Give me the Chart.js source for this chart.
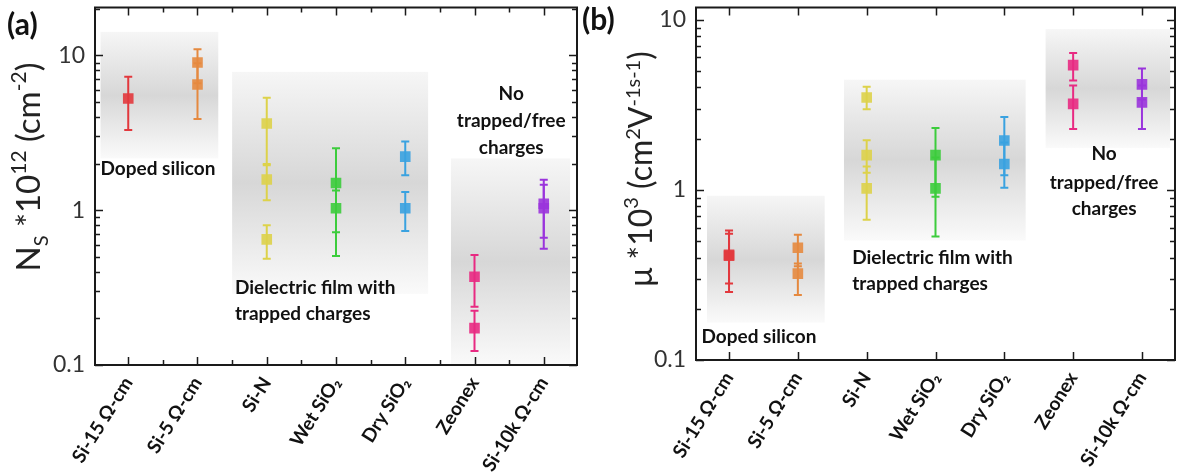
<!DOCTYPE html>
<html lang="en">
<head>
<meta charset="UTF-8" />
<title>Sheet charge density and mobility</title>
<script src="https://cdn.jsdelivr.net/npm/chart.js"></script>
<style>
  body { margin: 0; background: #fff; width: 1183px; height: 473px; overflow: hidden; }
  canvas { position: absolute; top: 0; }
  #nsChart { left: 0; }
  #muChart { left: 575px; }
</style>
</head>
<body>
<canvas id="nsChart" width="590" height="473"></canvas>
<canvas id="muChart" width="608" height="473"></canvas>

<script>
// categories along the x axis
const categories = ['Si-15 Ω-cm', 'Si-5 Ω-cm', 'Si-N', 'Wet SiO₂', 'Dry SiO₂', 'Zeonex', 'Si-10k Ω-cm'];
const yTickValues = [0.1, 1, 10];

// (a) sheet charge density, N_s * 10^12 cm^-2
const nsValues = [[5.27], [9.0, 6.49], [3.63, 1.58, 0.648], [1.50, 1.03], [2.22, 1.03], [0.372, 0.173], [1.10, 1.03]];
const nsLow    = [[3.30], [6.6, 3.89], [1.95, 1.16, 0.486], [0.72, 0.506], [1.68, 0.733], [0.238, 0.123], [0.664, 0.564]];
const nsHigh   = [[7.27], [10.96, 8.9], [5.33, 1.99, 0.80], [2.51, 1.34], [2.78, 1.31], [0.514, 0.224], [1.575, 1.46]];

// (b) mobility, mu * 10^3 cm^2 V^-1 s^-1
const muValues = [[0.415, 0.41], [0.457, 0.322], [3.49, 1.60, 1.02], [1.60, 1.02], [1.95, 1.42], [5.41, 3.20], [4.17, 3.27]];
const muLow    = [[0.251, 0.282], [0.356, 0.241], [2.98, 1.26, 0.668], [0.91, 0.532], [1.22, 1.03], [4.40, 2.28], [3.4, 2.28]];
const muHigh   = [[0.577, 0.552], [0.545, 0.369], [4.04, 1.96, 1.37], [2.31, 1.55], [2.68, 1.9], [6.38, 4.10], [5.17, 4.1]];

const colors = ['#e2383d', '#e5893f', '#ddd24a', '#3ccc3c', '#3aa2e0', '#e82a82', '#9a34dc'];

const FONT = 'Lato, "Open Sans", sans-serif';

// draws the gray bands, error bars, frame with inward ticks, notes and y title
function decor(cfg) {
  return {
    id: 'decor_' + cfg.name,
    beforeDatasetsDraw(chart) {
      const { ctx, chartArea: a, scales: { x, y } } = chart;
      ctx.save();
      cfg.bands.forEach(b => {
        const l = x.getPixelForValue(b.x0), r = x.getPixelForValue(b.x1);
        const t = y.getPixelForValue(b.y1), btm = y.getPixelForValue(b.y0);
        const g = ctx.createLinearGradient(0, t, 0, btm);
        g.addColorStop(0, '#f6f6f6');
        g.addColorStop(0.5, '#d7d7d7');
        g.addColorStop(1, '#fafafa');
        ctx.fillStyle = g;
        ctx.fillRect(l, t, r - l, btm - t);
      });
      ctx.lineWidth = 2;
      cfg.low.forEach((lows, i) => {
        ctx.strokeStyle = colors[i];
        const px = x.getPixelForValue(i);
        lows.forEach((lo, j) => {
          const y1 = y.getPixelForValue(lo), y2 = y.getPixelForValue(cfg.high[i][j]);
          ctx.beginPath();
          ctx.moveTo(px, y1); ctx.lineTo(px, y2);
          ctx.moveTo(px - 4, y1); ctx.lineTo(px + 4, y1);
          ctx.moveTo(px - 4, y2); ctx.lineTo(px + 4, y2);
          ctx.stroke();
        });
      });
      ctx.restore();
    },
    afterDraw(chart) {
      const { ctx, chartArea: a, scales: { x, y } } = chart;
      ctx.save();
      ctx.strokeStyle = '#1a1a1a';
      ctx.lineWidth = 2;
      ctx.strokeRect(a.left, a.top, a.right - a.left, a.bottom - a.top);
      ctx.beginPath();
      // x ticks, top and bottom, pointing in
      categories.forEach((c, i) => {
        const px = Math.round(x.getPixelForValue(i)) + 0.5;
        ctx.moveTo(px, a.bottom); ctx.lineTo(px, a.bottom - 8);
        ctx.moveTo(px, a.top); ctx.lineTo(px, a.top + 8);
        if (cfg.minorX && i < categories.length - 1) {
          const mx = Math.round(x.getPixelForValue(i + 0.5)) + 0.5;
          ctx.moveTo(mx, a.bottom); ctx.lineTo(mx, a.bottom - 5);
          ctx.moveTo(mx, a.top); ctx.lineTo(mx, a.top + 5);
        }
      });
      // y ticks, left and right
      yTickValues.forEach(d => {
        for (let k = 1; k <= 9; k++) {
          const v = d * k;
          if (v < y.min || v > y.max) continue;
          const py = Math.round(y.getPixelForValue(v)) + 0.5;
          const len = k === 1 ? 8 : 5;
          ctx.moveTo(a.left, py); ctx.lineTo(a.left + len, py);
          ctx.moveTo(a.right, py); ctx.lineTo(a.right - len, py);
        }
      });
      ctx.lineWidth = 1.5;
      ctx.stroke();

      // notes
      ctx.fillStyle = '#111';
      ctx.font = 'bold 19px ' + FONT;
      ctx.textBaseline = 'middle';
      cfg.notes.forEach(n => {
        ctx.textAlign = n.align;
        ctx.fillText(n.text, x.getPixelForValue(n.x), y.getPixelForValue(n.y));
      });

      // panel letter
      ctx.textAlign = 'left';
      ctx.font = 'bold 30px ' + FONT;
      ctx.fillText(cfg.letter, cfg.letterPos[0], cfg.letterPos[1]);

      // rotated y title with sub/superscripts
      ctx.translate(cfg.titlePos[0], cfg.titlePos[1]);
      ctx.rotate(-Math.PI / 2);
      ctx.fillStyle = '#222';
      ctx.textBaseline = 'alphabetic';
      let total = 0;
      cfg.title.forEach(r => { ctx.font = r.size + 'px ' + FONT; total += ctx.measureText(r.t).width; });
      let cx = -total / 2;
      cfg.title.forEach(r => {
        ctx.font = r.size + 'px ' + FONT;
        ctx.fillText(r.t, cx, r.dy);
        cx += ctx.measureText(r.t).width;
      });
      ctx.restore();
    }
  };
}

function makeChart(id, values, cfg) {
  const datasets = values.map((vals, i) => ({
    data: vals.map(v => ({ x: i, y: v })),
    pointStyle: 'rect',
    pointRadius: 7.5,
    pointHoverRadius: 7.5,
    backgroundColor: colors[i] + 'e6',
    borderWidth: 0,
    showLine: false
  }));
  return new Chart(document.getElementById(id), {
    type: 'scatter',
    data: { datasets },
    plugins: [decor(cfg)],
    options: {
      responsive: false,
      animation: false,
      layout: { padding: cfg.padding },
      plugins: { legend: { display: false }, tooltip: { enabled: false } },
      scales: {
        x: {
          type: 'linear', min: -0.48, max: 6.48,
          grid: { display: false, drawTicks: false },
          border: { display: false },
          afterBuildTicks: s => { s.ticks = categories.map((c, i) => ({ value: i })); },
          afterFit: s => { s.height = cfg.xHeight; s.paddingLeft = 0; s.paddingRight = 0; },
          ticks: {
            autoSkip: false, minRotation: 58, maxRotation: 58, padding: 8,
            color: '#111', font: { family: FONT, size: 19, weight: 'bold' },
            callback: v => categories[v]
          }
        },
        y: {
          type: 'logarithmic', min: 0.1, max: cfg.yMax,
          grid: { display: false, drawTicks: false },
          border: { display: false },
          afterBuildTicks: s => { s.ticks = yTickValues.map(v => ({ value: v })); },
          afterFit: s => { s.width = cfg.yWidth; s.paddingTop = 0; s.paddingBottom = 0; },
          ticks: {
            autoSkip: false, padding: 10, color: '#333',
            font: { family: FONT, size: 23 },
            callback: v => String(v)
          }
        }
      }
    }
  });
}

makeChart('nsChart', nsValues, {
  name: 'a', low: nsLow, high: nsHigh, minorX: true,
  yMax: 20.4, yWidth: 95, xHeight: 108,
  padding: { left: 0, top: 6, right: 13, bottom: 0 },
  letter: '(a)', letterPos: [7, 25],
  titlePos: [40, 167],
  title: [
    { t: 'N', size: 33, dy: 0 }, { t: 'S', size: 20, dy: 8 },
    { t: ' *10', size: 33, dy: 0 }, { t: '12', size: 21, dy: -14 },
    { t: ' (cm', size: 33, dy: 0 }, { t: '-2', size: 21, dy: -14 },
    { t: ')', size: 33, dy: 0 }
  ],
  bands: [
    { x0: -0.40, x1: 1.30, y0: 2.16, y1: 14.2 },
    { x0: 1.50, x1: 4.33, y0: 0.288, y1: 7.83 },
    { x0: 4.66, x1: 6.38, y0: 0.1, y1: 2.16 }
  ],
  notes: [
    { text: 'Doped silicon', x: -0.40, y: 1.84, align: 'left' },
    { text: 'Dielectric film with', x: 1.54, y: 0.315, align: 'left' },
    { text: 'trapped charges', x: 1.54, y: 0.214, align: 'left' },
    { text: 'No', x: 5.53, y: 5.65, align: 'center' },
    { text: 'trapped/free', x: 5.53, y: 3.79, align: 'center' },
    { text: 'charges', x: 5.53, y: 2.54, align: 'center' }
  ]
});

makeChart('muChart', muValues, {
  name: 'b', low: muLow, high: muHigh, minorX: false,
  yMax: 11.8, yWidth: 121, xHeight: 113,
  padding: { left: 0, top: 5, right: 8, bottom: 0 },
  letter: '(b)', letterPos: [7, 20],
  titlePos: [77, 169],
  title: [
    { t: 'μ *10', size: 32, dy: 0 }, { t: '3', size: 20, dy: -14 },
    { t: ' (cm', size: 32, dy: 0 }, { t: '2', size: 20, dy: -12 },
    { t: 'V', size: 32, dy: 0 }, { t: '-1s-1', size: 20, dy: -12 },
    { t: ')', size: 32, dy: 0 }
  ],
  bands: [
    { x0: -0.32, x1: 1.39, y0: 0.166, y1: 0.923 },
    { x0: 1.67, x1: 4.31, y0: 0.504, y1: 4.44 },
    { x0: 4.60, x1: 6.41, y0: 1.76, y1: 8.81 }
  ],
  notes: [
    { text: 'Doped silicon', x: -0.40, y: 0.137, align: 'left' },
    { text: 'Dielectric film with', x: 1.79, y: 0.401, align: 'left' },
    { text: 'trapped charges', x: 1.79, y: 0.279, align: 'left' },
    { text: 'No', x: 5.45, y: 1.62, align: 'center' },
    { text: 'trapped/free', x: 5.45, y: 1.10, align: 'center' },
    { text: 'charges', x: 5.45, y: 0.775, align: 'center' }
  ]
});
</script>
</body>
</html>
